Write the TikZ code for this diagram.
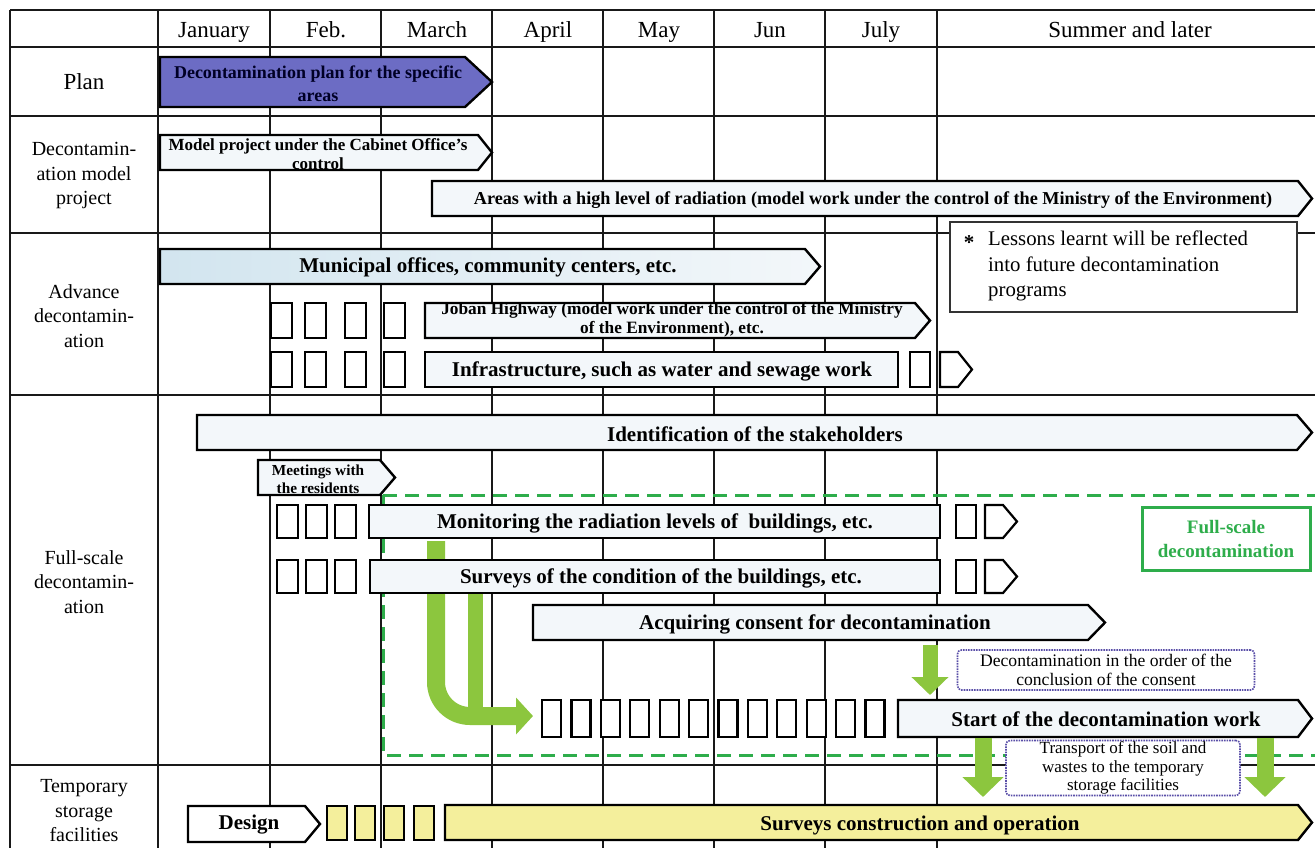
\documentclass[tikz,border=0pt]{standalone}
\usepackage{fontspec}
\setmainfont{Liberation Serif}
\usetikzlibrary{arrows.meta,calc,positioning}
\definecolor{PlanPurple}{HTML}{6C6CC4}
\definecolor{BarBlue}{HTML}{F3F7FA}
\definecolor{MuniBlue}{HTML}{D2E5EF}
\definecolor{ZoneGreen}{HTML}{2EAD4B}
\definecolor{ArrowGreen}{HTML}{8CC63E}
\definecolor{NoteViolet}{HTML}{5A4FA8}
\definecolor{StoreYellow}{HTML}{F4EF9C}
\newcommand{\fsz}[2]{\fontsize{#1}{#2}\selectfont}
% arrow-shaped bar: style, x1, y1, x2 (tip), y2, tip length
\newcommand{\pbar}[6]{\draw[#1] (#2,#3) -- ({#4-#6},#3) -- (#4,{(#3+#5)/2}) -- ({#4-#6},#5) -- (#2,#5) -- cycle;}

\begin{document}
\begin{tikzpicture}[x=1pt,y=-1pt,
    grid/.style={draw=black!90,line width=1.5pt},
    barline/.style={draw=black,line width=2.4pt,line join=miter,fill=BarBlue},
    sbox/.style={draw=black,line width=2.2pt,fill=white},
    hdr/.style={font=\fsz{23}{26}},
    rowlab/.style={font=\fsz{20}{24.5},align=center},
    bartext/.style={font=\fsz{21}{23}\bfseries},
    smalltext/.style={font=\fsz{17}{19}\bfseries,align=center},
    notebox/.style={draw=NoteViolet,densely dotted,line width=1.6pt,rounded corners=4pt,fill=white,
      align=center,inner sep=0pt,font=\fsz{17.6}{19.5}},
    downarrow/.style={draw=ArrowGreen,line width=17pt,-{Triangle[width=40pt,length=20pt]}}]
  \useasboundingbox (0,0) rectangle (1315,847);
  \fill[white] (0,0) rectangle (1315,847);
  \clip (0,0) rectangle (1315,847);

  % table grid
  \foreach \yy in {10,47,116,233,395,765}
    \draw[grid] (10,\yy) -- (1320,\yy);
  \foreach \xx in {10,158,270,381,492,603,714,825,937}
    \draw[grid] (\xx,10) -- (\xx,850);

  % month header
  \foreach \xx/\mon/\nm in {214/January/jan,326/Feb./feb,437/March/mar,548/April/apr,
      659/May/may,770/Jun/jun,881/July/jul,1130/Summer and later/sum}
    \node[hdr,anchor=base] (h\nm) at (\xx,37) {\mon};

  % row labels
  \node[rowlab,font=\fsz{23}{26}] (rplan) at (84,82) {Plan};
  \node[rowlab] (rmodel) at (84,176) {Decontamin-\\ation model\\project};
  \node[rowlab] (radv) at (84,316) {Advance\\decontamin-\\ation};
  \node[rowlab] (rfull) at (84,582) {Full-scale\\decontamin-\\ation};
  \node[rowlab] (rtemp) at (84,811) {Temporary\\storage\\facilities};

  % full-scale zone
  \draw[ZoneGreen,line width=3pt,dash pattern=on 14pt off 8pt] (383,495) rectangle (1340,755);

  % green flow arrow into the work boxes
  \coordinate (ua) at (436,541);
  \coordinate (ub) at (533,716);
  \coordinate (uc) at (475,575);
  \coordinate (ud) at (475,712);
  \draw[ArrowGreen,line width=15pt] (uc) -- (ud);
  \draw[ArrowGreen,line width=18pt,rounded corners=34pt,-{Triangle[width=36pt,length=17pt]}] (ua) |- (ub);

  % plan
  \pbar{barline,fill=PlanPurple}{160}{57}{492}{107}{27}
  \node[font=\fsz{18}{23}\bfseries,align=center,text=black!85!blue] (plan) at (318,84)
    {Decontamination plan for the specific\\areas};

  % model project
  \pbar{barline}{160}{135}{492}{170}{14}
  \node[smalltext] (model) at (318,154) {Model project under the Cabinet Office's\\control};
  \pbar{barline}{432}{181}{1312}{216}{14}
  \node[bartext,font=\fsz{18.2}{20}\bfseries] (areas) at (873,200)
    {Areas with a high level of radiation (model work under the control of the Ministry of the Environment)};

  % lessons note
  \draw[draw=black!80,line width=1.6pt,fill=white] (950,222) rectangle (1297,312);
  \node[font=\fsz{21}{25}\bfseries] (star) at (969,243) {*};
  \node[font=\fsz{20.8}{25.5},align=left,anchor=north west,inner sep=0pt] (lessons) at (988,231)
    {Lessons learnt will be reflected\\into future decontamination\\programs};

  % advance decontamination
  \pbar{barline,left color=MuniBlue,right color=BarBlue}{160}{249}{820}{284}{15}
  \node[bartext] (muni) at (488,267) {Municipal offices, community centers, etc.};
  \foreach \xx in {271,305,345,384} {
    \draw[sbox] (\xx,303) rectangle ++(21,35);
    \draw[sbox] (\xx,352) rectangle ++(21,35);
  }
  \pbar{barline}{425}{303}{930}{338}{15}
  \node[smalltext,font=\fsz{17.3}{19}\bfseries] (joban) at (672,320) {Joban Highway (model work under the control of the Ministry\\of the Environment), etc.};
  \draw[barline] (425,352) rectangle (898,387);
  \node[bartext] (infra) at (662,371) {Infrastructure, such as water and sewage work};
  \draw[sbox] (910,352) rectangle (930,387);
  \pbar{sbox}{940}{352}{972}{387}{14}

  % full-scale decontamination
  \pbar{barline}{197}{415}{1312}{450}{15}
  \node[bartext] (ident) at (755,434) {Identification of the stakeholders};
  \pbar{barline}{258}{460}{395}{495}{15}
  \node[smalltext,font=\fsz{15.3}{18}\bfseries] (meet) at (318,479) {Meetings with\\the residents};
  \foreach \xx in {277,306,335} {
    \draw[sbox] (\xx,505) rectangle ++(21,33);
    \draw[sbox] (\xx,560) rectangle ++(21,33);
  }
  \draw[barline] (369,505) rectangle (940,538);
  \node[bartext] (monitor) at (655,523) {Monitoring the radiation levels of\ \ buildings, etc.};
  \draw[barline] (370,560) rectangle (940,593);
  \node[bartext] (survey) at (661,578) {Surveys of the condition of the buildings, etc.};
  \foreach \yy in {505,560} {
    \draw[sbox] (956,\yy) rectangle ++(20,33);
    \pbar{sbox}{985}{\yy}{1017}{\yy+33}{14}
  }
  \draw[draw=ZoneGreen,line width=3pt,fill=white] (1142,507) rectangle (1310,570);
  \node[font=\fsz{19}{24}\bfseries,text=ZoneGreen,align=center] (zone) at (1226,539) {Full-scale\\decontamination};

  \pbar{barline}{533}{605}{1105}{640}{17}
  \node[bartext] (consent) at (815,624) {Acquiring consent for decontamination};
  \foreach \k in {0,...,11}
    \draw[sbox] ({542+29.4*\k},700) rectangle ++(19,37);
  \pbar{barline}{898}{700}{1312}{737}{14}
  \node[bartext] (start) at (1106,719) {Start of the decontamination work};

  \node[notebox,minimum width=297pt,minimum height=40pt] (order) at (1106,670)
    {Decontamination in the order of the\\conclusion of the consent};
  \node[notebox,font=\fsz{17}{18.5},minimum width=234pt,minimum height=55pt] (transport) at (1123,768)
    {Transport of the soil and\\wastes to the temporary\\storage facilities};

  % green down arrows
  \coordinate (d1a) at (930,645);
  \coordinate (d1b) at (930,695);
  \coordinate (d2a) at (983,738);
  \coordinate (d2b) at (983,797);
  \coordinate (d3a) at (1265,738);
  \coordinate (d3b) at (1265,797);
  \draw[downarrow,line width=15pt,-{Triangle[width=36pt,length=18pt]}] (d1a) -- (d1b);
  \draw[downarrow] (d2a) -- (d2b);
  \draw[downarrow] (d3a) -- (d3b);

  % temporary storage facilities
  \pbar{barline,fill=white}{188}{806}{320}{842}{15}
  \node[bartext] (design) at (249,825) {Design};
  \foreach \xx in {327,355,384,414}
    \draw[sbox,fill=StoreYellow] (\xx,806) rectangle ++(20,34);
  \pbar{barline,fill=StoreYellow}{445}{805}{1312}{840}{14}
  \node[bartext] (storage) at (920,825) {Surveys construction and operation};
\end{tikzpicture}
\end{document}
